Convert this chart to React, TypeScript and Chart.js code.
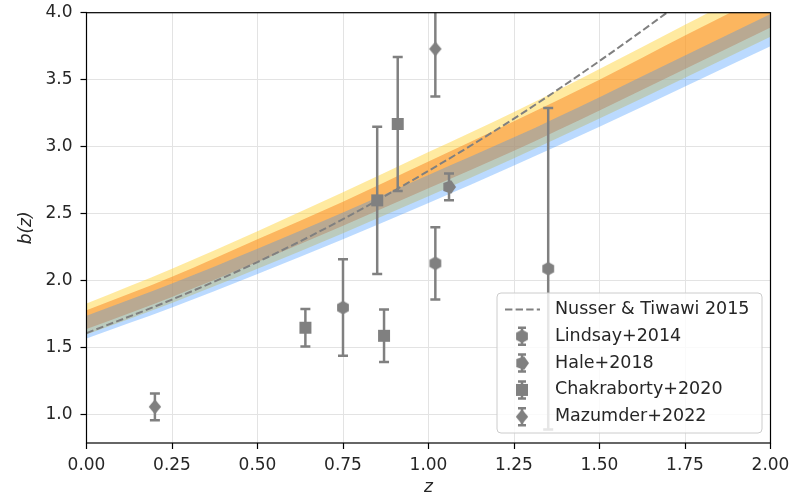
import React, { useEffect, useRef } from 'react';
import { Chart, registerables } from 'chart.js';

Chart.register(...registerables);

const GRAY = '#808080';
const FONT = "'DejaVu Sans', sans-serif";

// model grid (redshift) and band edges
const zGrid = [0, 0.25, 0.5, 0.75, 1.0, 1.25, 1.5, 1.75, 2.0];
const yellowLow = [1.60, 1.835, 2.09, 2.355, 2.63, 2.915, 3.21, 3.515, 3.82];
const yellowHigh = [1.83, 2.09, 2.37, 2.66, 2.96, 3.26, 3.58, 3.91, 4.24];
const orangeLow = [1.64, 1.88, 2.14, 2.41, 2.69, 2.97, 3.27, 3.58, 3.89];
const orangeHigh = [1.78, 2.03, 2.31, 2.59, 2.89, 3.19, 3.50, 3.83, 4.15];
const blueLow = [1.57, 1.80, 2.05, 2.31, 2.58, 2.86, 3.15, 3.45, 3.75];
const blueHigh = [1.74, 1.98, 2.24, 2.51, 2.79, 3.07, 3.37, 3.68, 3.99];
const nusser = [1.61, 1.86, 2.14, 2.46, 2.82, 3.21, 3.64, 4.10, 4.59];

// measurements
const lindsayZ = [0.75, 1.02, 1.35];
const lindsayB = [1.80, 2.13, 2.09];
const lindsayErr = [0.36, 0.27, 1.20];
const haleZ = [1.06];
const haleB = [2.70];
const haleErr = [0.10];
const chakZ = [0.64, 0.85, 0.87, 0.91];
const chakB = [1.65, 2.60, 1.59, 3.17];
const chakErr = [0.14, 0.55, 0.195, 0.50];
const mazZ = [0.20, 1.02];
const mazB = [1.06, 3.73];
const mazErr = [0.10, 0.355];

const xTicks = [0, 0.25, 0.5, 0.75, 1.0, 1.25, 1.5, 1.75, 2.0];
const yTicks = [1.0, 1.5, 2.0, 2.5, 3.0, 3.5, 4.0];
const xMin = 0, xMax = 2, yMin = 0.79, yMax = 4.0;

const legendLabels = ['Nusser & Tiwawi 2015', 'Lindsay+2014', 'Hale+2018', 'Chakraborty+2020', 'Mazumder+2022'];

function makeMarker(kind: string): HTMLCanvasElement {
  const s = 18;
  const c = document.createElement('canvas');
  c.width = s; c.height = s;
  const g = c.getContext('2d')!;
  g.fillStyle = GRAY;
  g.translate(s / 2, s / 2);
  g.beginPath();
  if (kind === 'square') {
    g.rect(-6, -6, 12, 12);
  } else if (kind === 'diamond') {
    g.moveTo(0, -7.5); g.lineTo(6.2, 0); g.lineTo(0, 7.5); g.lineTo(-6.2, 0);
  } else if (kind === 'hexagon') {
    for (let i = 0; i < 6; i++) {
      const a = (-90 + 60 * i) * Math.PI / 180;
      const px = 6.8 * Math.cos(a), py = 6.8 * Math.sin(a);
      if (i === 0) g.moveTo(px, py); else g.lineTo(px, py);
    }
  } else {
    for (let i = 0; i < 5; i++) {
      const a = (72 * i) * Math.PI / 180;
      const px = 7 * Math.cos(a), py = 7 * Math.sin(a);
      if (i === 0) g.moveTo(px, py); else g.lineTo(px, py);
    }
  }
  g.closePath();
  g.fill();
  return c;
}

const pts = (xs: number[], ys: number[]) => xs.map((x, i) => ({ x, y: ys[i] }));

export default function App() {
  const ref = useRef<HTMLCanvasElement>(null);
  useEffect(() => {
    const markers = {
      lindsay: makeMarker('hexagon'),
      hale: makeMarker('pentagon'),
      chak: makeMarker('square'),
      maz: makeMarker('diamond'),
    };
    const series = [
      { z: lindsayZ, b: lindsayB, e: lindsayErr, m: markers.lindsay },
      { z: haleZ, b: haleB, e: haleErr, m: markers.hale },
      { z: chakZ, b: chakB, e: chakErr, m: markers.chak },
      { z: mazZ, b: mazB, e: mazErr, m: markers.maz },
    ];

    const band = (lo: number[], hi: number[], color: string, order: number, name: string) => [
      { label: name + ' low', data: pts(zGrid, lo), borderWidth: 0, pointRadius: 0, fill: false, order, cubicInterpolationMode: 'monotone' },
      { label: name + ' high', data: pts(zGrid, hi), borderWidth: 0, pointRadius: 0, fill: '-1', backgroundColor: color, order, cubicInterpolationMode: 'monotone' },
    ];

    const datasets: any[] = [
      ...band(yellowLow, yellowHigh, 'rgba(255,208,45,0.45)', 6, 'yellow'),
      ...band(orangeLow, orangeHigh, 'rgba(250,130,30,0.5)', 5, 'orange'),
      ...band(blueLow, blueHigh, 'rgba(45,140,255,0.32)', 4, 'blue'),
      { label: legendLabels[0], data: pts(zGrid, nusser), borderColor: GRAY, borderWidth: 2, borderDash: [7.4, 3.2], pointRadius: 0, fill: false, order: 2, cubicInterpolationMode: 'monotone' },
      ...series.map((s, i) => ({ label: legendLabels[i + 1], data: pts(s.z, s.b), showLine: false, pointStyle: s.m, pointRadius: 7, order: 0 })),
    ];

    const errPlugin = {
      id: 'errbars',
      afterDatasetDraw(chart: any, args: any) {
        if (chart.data.datasets[args.index].label !== legendLabels[0]) return;
        const { ctx, chartArea, scales } = chart;
        ctx.save();
        ctx.beginPath();
        ctx.rect(chartArea.left, chartArea.top, chartArea.right - chartArea.left, chartArea.bottom - chartArea.top);
        ctx.clip();
        ctx.strokeStyle = GRAY;
        ctx.lineWidth = 2.5;
        for (const s of series) {
          s.z.forEach((z, i) => {
            const px = scales.x.getPixelForValue(z);
            const t = scales.y.getPixelForValue(s.b[i] + s.e[i]);
            const b = scales.y.getPixelForValue(s.b[i] - s.e[i]);
            ctx.beginPath();
            ctx.moveTo(px, t); ctx.lineTo(px, b);
            ctx.moveTo(px - 5, t); ctx.lineTo(px + 5, t);
            ctx.moveTo(px - 5, b); ctx.lineTo(px + 5, b);
            ctx.stroke();
          });
        }
        ctx.restore();
      },
    };

    const framePlugin = {
      id: 'frame',
      afterDatasetsDraw(chart: any) {
        const { ctx, chartArea: a } = chart;
        ctx.save();
        ctx.strokeStyle = '#000';
        ctx.lineWidth = 1.2;
        ctx.strokeRect(a.left, a.top, a.right - a.left, a.bottom - a.top);
        ctx.restore();
      },
    };

    const legendPlugin = {
      id: 'boxLegend',
      afterDraw(chart: any) {
        const { ctx, chartArea } = chart;
        const w = 265, h = 140, r = 4;
        const right = chartArea.right - 8.5, bottom = chartArea.bottom - 10;
        const left = right - w, top = bottom - h;
        ctx.save();
        ctx.beginPath();
        ctx.moveTo(left + r, top);
        ctx.arcTo(right, top, right, bottom, r);
        ctx.arcTo(right, bottom, left, bottom, r);
        ctx.arcTo(left, bottom, left, top, r);
        ctx.arcTo(left, top, right, top, r);
        ctx.closePath();
        ctx.fillStyle = 'rgba(255,255,255,0.8)';
        ctx.fill();
        ctx.strokeStyle = '#cccccc';
        ctx.lineWidth = 1;
        ctx.stroke();
        ctx.font = `17.5px ${FONT}`;
        ctx.textBaseline = 'middle';
        ctx.textAlign = 'left';
        legendLabels.forEach((lab, i) => {
          const y = top + 16.5 + i * 26.8;
          ctx.fillStyle = '#262626';
          ctx.fillText(lab, left + 58, y);
          const cx = left + 25;
          if (i === 0) {
            ctx.beginPath();
            ctx.setLineDash([7.4, 3.2]);
            ctx.strokeStyle = GRAY;
            ctx.lineWidth = 2;
            ctx.moveTo(left + 8, y); ctx.lineTo(left + 43, y);
            ctx.stroke();
            ctx.setLineDash([]);
          } else {
            ctx.beginPath();
            ctx.strokeStyle = GRAY;
            ctx.lineWidth = 2.5;
            ctx.moveTo(cx, y - 8.5); ctx.lineTo(cx, y + 8.5);
            ctx.moveTo(cx - 4, y - 8.5); ctx.lineTo(cx + 4, y - 8.5);
            ctx.moveTo(cx - 4, y + 8.5); ctx.lineTo(cx + 4, y + 8.5);
            ctx.stroke();
            const m = series[i - 1].m;
            ctx.drawImage(m, cx - m.width / 2, y - m.height / 2);
          }
        });
        ctx.restore();
      },
    };

    const tickFont = { family: FONT, size: 17 };
    const chart = new Chart(ref.current!, {
      type: 'line',
      data: { datasets },
      options: {
        animation: false,
        responsive: false,
        events: [],
        layout: { padding: { top: 12.7, right: 21.5, left: 0, bottom: 0 } },
        plugins: { legend: { display: false }, tooltip: { enabled: false } },
        scales: {
          x: {
            type: 'linear', min: xMin, max: xMax,
            afterBuildTicks: (s: any) => { s.ticks = xTicks.map(v => ({ value: v })); },
            afterFit: (s: any) => { s.height = 56; s.paddingLeft = 0; s.paddingRight = 0; },
            ticks: { font: tickFont, color: '#262626', padding: 6, maxRotation: 0, callback: (v: any) => Number(v).toFixed(2) },
            grid: { color: '#e3e3e3', lineWidth: 1, drawTicks: true, tickLength: 6, tickColor: '#000', tickWidth: 1.2 },
            border: { display: false },
            title: { display: true, text: 'z', font: { family: FONT, size: 17, style: 'italic' }, color: '#262626', padding: { top: 1, bottom: 1 } },
          },
          y: {
            type: 'linear', min: yMin, max: yMax,
            afterBuildTicks: (s: any) => { s.ticks = yTicks.map(v => ({ value: v })); },
            afterFit: (s: any) => { s.width = 86.5; s.paddingTop = 0; s.paddingBottom = 0; },
            ticks: { font: tickFont, color: '#262626', padding: 8, callback: (v: any) => Number(v).toFixed(1) },
            grid: { color: '#e3e3e3', lineWidth: 1, drawTicks: true, tickLength: 6, tickColor: '#000', tickWidth: 1.2 },
            border: { display: false },
            title: { display: true, text: 'b(z)', font: { family: FONT, size: 17, style: 'italic' }, color: '#262626', padding: { top: 16, bottom: 0 } },
          },
        },
      } as any,
      plugins: [errPlugin, framePlugin, legendPlugin],
    });
    return () => chart.destroy();
  }, []);
  return (
    <div style={{ position: 'absolute', left: 0, top: 0, width: 792, height: 499, background: '#fff' }}>
      <canvas ref={ref} width={792} height={499} style={{ width: 792, height: 499, display: 'block' }} />
    </div>
  );
}
